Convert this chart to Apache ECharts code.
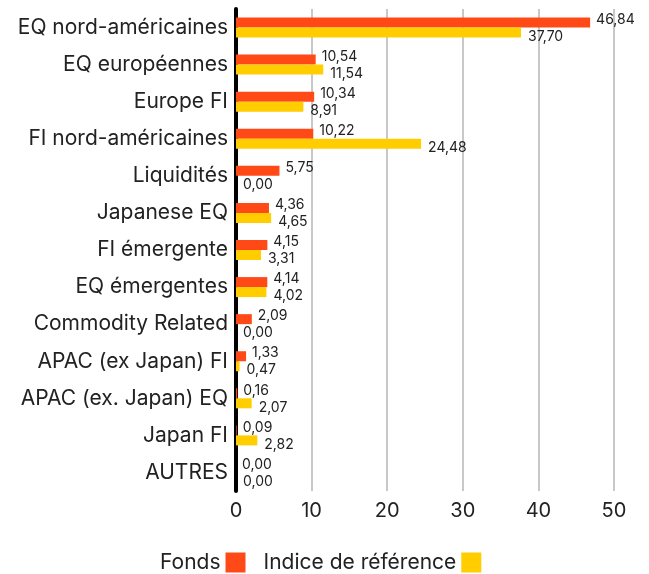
<!DOCTYPE html>
<html>
<head>
<meta charset="utf-8">
<script src="https://cdn.jsdelivr.net/npm/echarts@6/dist/echarts.min.js"></script>
<style>
  html, body { margin: 0; padding: 0; background: #fff; }
  #main { width: 649px; height: 574px; }
</style>
</head>
<body>
<div id="main"></div>
<script>
var categories = ['EQ nord-américaines', 'EQ européennes', 'Europe FI', 'FI nord-américaines', 'Liquidités',
  'Japanese EQ', 'FI émergente', 'EQ émergentes', 'Commodity Related', 'APAC (ex Japan) FI',
  'APAC (ex. Japan) EQ', 'Japan FI', 'AUTRES'];
var fonds = [46.84, 10.54, 10.34, 10.22, 5.75, 4.36, 4.15, 4.14, 2.09, 1.33, 0.16, 0.09, 0.00];
var indice = [37.70, 11.54, 8.91, 24.48, 0.00, 4.65, 3.31, 4.02, 0.00, 0.47, 2.07, 2.82, 0.00];
var xTicks = [0, 10, 20, 30, 40, 50];

function fmt(p) {
  return p.value.toFixed(2).replace('.', ',');
}

function initChart() {
  var chartDom = document.getElementById('main');
  var myChart = echarts.init(chartDom);
  var font = 'Inter';
  var option = {
    animation: false,
    textStyle: { fontFamily: font },
    grid: { left: 236, right: 35, top: 9, bottom: 83 },
    legend: {
      left: 155,
      top: 547,
      align: 'right',
      itemWidth: 20,
      itemHeight: 20,
      itemGap: 18,
      icon: 'rect',
      textStyle: { fontSize: 21, color: '#222', fontFamily: font },
      data: ['Fonds', 'Indice de référence']
    },
    xAxis: {
      type: 'value',
      min: xTicks[0],
      max: xTicks[xTicks.length - 1],
      interval: 10,
      axisLine: { show: false },
      axisTick: { show: false },
      axisLabel: { fontSize: 20, color: '#222', margin: 10, fontFamily: font },
      splitLine: { lineStyle: { color: '#c8c8c8', width: 2 } }
    },
    yAxis: {
      type: 'category',
      data: categories,
      inverse: true,
      axisLine: { show: true, lineStyle: { color: '#000', width: 4 } },
      axisTick: { show: false },
      axisLabel: { fontSize: 21, color: '#222', margin: 8, fontFamily: font }
    },
    series: [
      {
        name: 'Fonds',
        type: 'bar',
        data: fonds,
        barWidth: 10,
        barGap: '0%',
        itemStyle: { color: '#ff4a17' },
        label: {
          show: true, position: 'right', distance: 6, offset: [0, -3],
          fontSize: 14, color: '#222', fontFamily: font, formatter: fmt
        }
      },
      {
        name: 'Indice de référence',
        type: 'bar',
        data: indice,
        barWidth: 10,
        barGap: '0%',
        itemStyle: { color: '#ffcd00' },
        label: {
          show: true, position: 'right', distance: 7, offset: [0, 4],
          fontSize: 14, color: '#222', fontFamily: font, formatter: fmt
        }
      }
    ]
  };
  myChart.setOption(option);
}

document.addEventListener('DOMContentLoaded', () => {
  initChart();
});
</script>
</body>
</html>
